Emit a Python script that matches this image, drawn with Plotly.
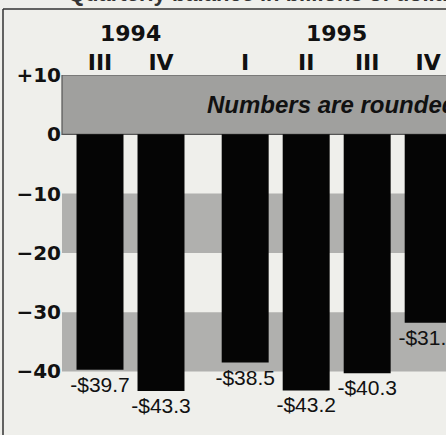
import plotly.graph_objects as go

# ---- data ----
years = ["1994", "1994", "1995", "1995", "1995", "1995"]
quarters = ["III", "IV", "I", "II", "III", "IV"]
values = [-39.7, -43.3, -38.5, -43.2, -40.3, -31.8]
value_labels = ["-$39.7", "-$43.3", "-$38.5", "-$43.2", "-$40.3", "-$31.8"]
y_tick_vals = [10, 0, -10, -20, -30, -40]
y_tick_text = ["+10", "0", "\u221210", "\u221220", "\u221230", "\u221240"]
title_text = "Quarterly balance in billions of dollars"
note_text = "Numbers are rounded"

# ---- layout helpers ----
YEAR_GAP = 0.38
positions = []
for i, yr in enumerate(years):
    positions.append(i + (YEAR_GAP if yr != years[0] else 0))

W, H = 446, 435
ML, MR, MT, MB = 62, 0, 75, 21.5
plot_h = H - MT - MB
plot_w = W - ML - MR

def py(pix):  # pixel y -> paper y
    return 1 + (MT - pix) / plot_h

def px(pix):  # pixel x -> paper x
    return (pix - ML) / plot_w

FONT = "Liberation Sans, Arial, sans-serif"
BOLD = "DejaVu Sans, sans-serif"

fig = go.Figure()
fig.add_trace(go.Bar(
    x=positions, y=values, width=0.77,
    marker=dict(color="#050505", line=dict(width=0)),
    text=value_labels, textposition="outside", cliponaxis=False,
    constraintext="none",
    textfont=dict(family=FONT, size=21, color="#111"),
    hoverinfo="skip",
))

shapes = []
bands = [(10, 0, "#a0a09e"), (-10, -20, "#b0b0ae"), (-30, -40, "#b0b0ae")]
for y0, y1, c in bands:
    shapes.append(dict(type="rect", xref="paper", yref="y", x0=0, x1=1.02, y0=y0, y1=y1,
                       fillcolor=c, line=dict(width=1.2 if y0 == 10 else 0, color="#555"),
                       layer="below"))
# frame lines
shapes.append(dict(type="line", xref="paper", yref="paper", x0=px(3), x1=px(460),
                   y0=py(9), y1=py(9), line=dict(color="#333", width=1.5)))
shapes.append(dict(type="line", xref="paper", yref="paper", x0=px(3), x1=px(3),
                   y0=py(9), y1=py(440), line=dict(color="#333", width=1.5)))

annotations = []
for yr in dict.fromkeys(years):
    xs = [p for p, y in zip(positions, years) if y == yr]
    annotations.append(dict(x=sum(xs) / len(xs), xref="x", y=py(33), yref="paper",
                            xanchor="center", yanchor="middle",
                            text=f"<b>{yr}</b>", showarrow=False,
                            font=dict(family=BOLD, size=22, color="#111")))
annotations.append(dict(x=px(205), xref="paper", xanchor="left", y=5, yref="y",
                        yanchor="middle",
                        text=f"<b><i>{note_text}</i></b>", showarrow=False,
                        font=dict(family=FONT, size=24, color="#111")))
annotations.append(dict(x=px(470), xref="paper", xanchor="right", y=py(7.5), yref="paper",
                        yanchor="bottom",
                        text=f"<b>{title_text}</b>", showarrow=False,
                        font=dict(family=FONT, size=22, color="#333")))

fig.update_layout(
    width=W, height=H,
    margin=dict(l=ML, r=MR, t=MT, b=MB, pad=0),
    paper_bgcolor="#efefeb", plot_bgcolor="rgba(0,0,0,0)",
    showlegend=False, shapes=shapes, annotations=annotations,
    xaxis=dict(range=[(62 - 100) / 61, (446 - 100) / 61], side="top",
               tickvals=positions, ticktext=[f"<b>{q}</b>" for q in quarters],
               ticks="", showgrid=False, zeroline=False, showline=False,
               tickfont=dict(family=BOLD, size=22, color="#111")),
    yaxis=dict(range=[-47, 10], tickvals=y_tick_vals, ticktext=[f"<b>{t}</b>" for t in y_tick_text],
               ticks="", showgrid=False, zeroline=False, showline=False,
               tickfont=dict(family=BOLD, size=20, color="#111")),
)

fig.write_html("out.html", config={"displayModeBar": False},
               post_script="document.body.style.margin='0';document.body.style.overflow='hidden';")
